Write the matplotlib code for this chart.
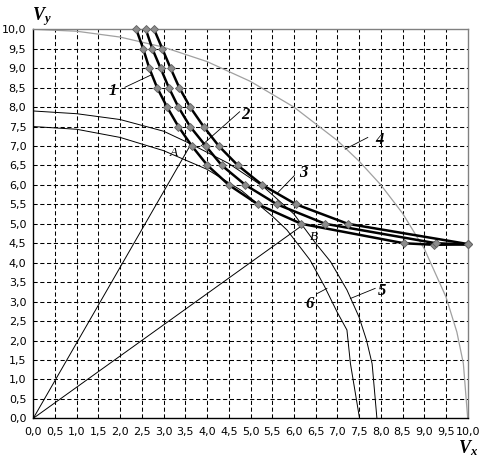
import matplotlib
matplotlib.use('Agg')
import matplotlib.pyplot as plt
import numpy as np

plt.rcParams['mathtext.fontset'] = 'custom'
plt.rcParams['mathtext.it'] = 'Liberation Serif:italic:bold'
plt.rcParams['mathtext.rm'] = 'Liberation Serif:bold'

# ---- data ----
c1_x = [2.37, 2.53, 2.67, 2.85, 3.08, 3.34, 3.65, 4.01, 4.50, 5.17, 6.17, 8.53, 9.22, 10.0]
c1_y = [10.0, 9.5, 9.0, 8.5, 8.0, 7.5, 7.0, 6.5, 6.0, 5.5, 5.0, 4.5, 4.46, 4.47]
c2_x = [2.59, 2.74, 2.93, 3.12, 3.34, 3.61, 3.97, 4.34, 4.88, 5.61, 6.72, 9.27, 10.0]
c2_y = [10.0, 9.5, 9.0, 8.5, 8.0, 7.5, 7.0, 6.5, 6.0, 5.5, 5.0, 4.5, 4.47]
c3_x = [2.78, 2.97, 3.16, 3.36, 3.61, 3.92, 4.27, 4.71, 5.27, 6.05, 7.24, 10.0]
c3_y = [10.0, 9.5, 9.0, 8.5, 8.0, 7.5, 7.0, 6.5, 6.0, 5.5, 5.0, 4.48]

l4_x = [0.0, 1.0, 2.0, 3.0, 4.0, 5.0, 6.0, 7.0, 7.5, 8.0, 8.5, 9.0, 9.5, 9.75, 9.9, 10.0]
l4_y = [10.0, 9.95, 9.8, 9.54, 9.17, 8.66, 8.0, 7.14, 6.61, 6.0, 5.27, 4.36, 3.12, 2.22, 1.41, 0.0]

l5_x = [0.0, 1.0, 2.0, 3.0, 3.63, 4.5, 5.3, 6.0, 6.5, 6.84, 7.22, 7.5, 7.67, 7.8, 7.91]
l5_y = [7.9, 7.83, 7.68, 7.38, 7.05, 6.55, 5.95, 5.25, 4.5, 4.03, 3.30, 2.6, 2.01, 1.4, 0.0]

l6_x = [0.0, 1.0, 2.0, 3.0, 4.0, 4.8, 5.5, 5.84, 6.37, 6.7, 6.99, 7.22, 7.30, 7.51]
l6_y = [7.5, 7.43, 7.22, 6.88, 6.4, 5.85, 5.2, 4.84, 4.07, 3.4, 2.74, 2.27, 1.41, 0.0]

ray_a_x = [0.0, 3.63]
ray_a_y = [0.0, 7.05]
ray_b_x = [0.0, 6.18]
ray_b_y = [0.0, 4.95]

ticks = [i * 0.5 for i in range(21)]
tick_labels = [f"{t:.1f}".replace('.', ',') for t in ticks]

# labels: (text, x, y), leaders: ((x0,y0),(x1,y1))
num_labels = [("1", 1.84, 8.42), ("2", 4.88, 7.80), ("3", 6.22, 6.30),
              ("4", 7.97, 7.15), ("5", 8.03, 3.27), ("6", 6.36, 2.94)]
leaders = [((2.11, 8.51), (2.70, 8.82)), ((4.75, 7.88), (3.86, 7.0)),
           ((6.01, 6.24), (5.61, 5.78)), ((7.70, 7.22), (7.18, 6.92)),
           ((7.87, 3.34), (7.30, 3.08)), ((6.54, 3.21), (6.76, 3.34))]
pt_labels = [("A", 3.24, 6.82), ("B", 6.45, 4.67)]

# ---- figure ----
W, H = 484, 470
fig = plt.figure(figsize=(W / 100, H / 100), dpi=100)
ax = fig.add_axes([33.3 / W, 1 - 418.3 / H, 434.4 / W, 389.0 / H])
ax.set_xlim(0, 10)
ax.set_ylim(0, 10)
ax.set_xticks(ticks)
ax.set_yticks(ticks)
ax.set_xticklabels(tick_labels)
ax.set_yticklabels(tick_labels)
ax.tick_params(length=0, labelsize=8, colors='black')
ax.tick_params(axis='x', pad=6.5)
ax.tick_params(axis='y', pad=5)
for lab in ax.get_xticklabels() + ax.get_yticklabels():
    lab.set_family('DejaVu Sans')

for t in ticks[1:-1]:
    ax.axvline(t, color='black', lw=0.75, ls=(0, (4, 2.5)), zorder=1)
    ax.axhline(t, color='black', lw=0.75, ls=(0, (4, 2.5)), zorder=1)

for s in ['left', 'bottom']:
    ax.spines[s].set_color('black')
    ax.spines[s].set_linewidth(1.0)
for s in ['top', 'right']:
    ax.spines[s].set_color('#808080')
    ax.spines[s].set_linewidth(1.0)

ax.plot(l4_x, l4_y, color='#a0a0a0', lw=0.9, zorder=2)
ax.plot(l5_x, l5_y, color='black', lw=0.7, zorder=2)
ax.plot(l6_x, l6_y, color='black', lw=0.7, zorder=2)
ax.plot(ray_a_x, ray_a_y, color='black', lw=0.7, zorder=2)
ax.plot(ray_b_x, ray_b_y, color='black', lw=0.7, zorder=2)

for cx, cy in [(c1_x, c1_y), (c2_x, c2_y), (c3_x, c3_y)]:
    ax.plot(cx, cy, color='black', lw=1.8, marker='D', markersize=3.8,
            markerfacecolor='#8c8c8c', markeredgecolor='#606060',
            markeredgewidth=0.6, zorder=4, clip_on=False)

for (p0, p1) in leaders:
    ax.plot([p0[0], p1[0]], [p0[1], p1[1]], color='black', lw=0.6, zorder=3)

for txt, x, y in num_labels:
    ax.text(x, y, txt, fontsize=12, family='Liberation Serif', weight='bold',
            style='italic', ha='center', va='center', zorder=5)
for txt, x, y in pt_labels:
    ax.text(x, y, txt, fontsize=9.5, family='Liberation Serif',
            style='italic', ha='center', va='center', zorder=5)

fig.text(42 / W, 1 - 17 / H, r'$V_y$', fontsize=13, ha='center', va='center')
fig.text(468 / W, 1 - 448 / H, r'$V_x$', fontsize=13, ha='center', va='center')

fig.savefig('out.png', dpi=100)
